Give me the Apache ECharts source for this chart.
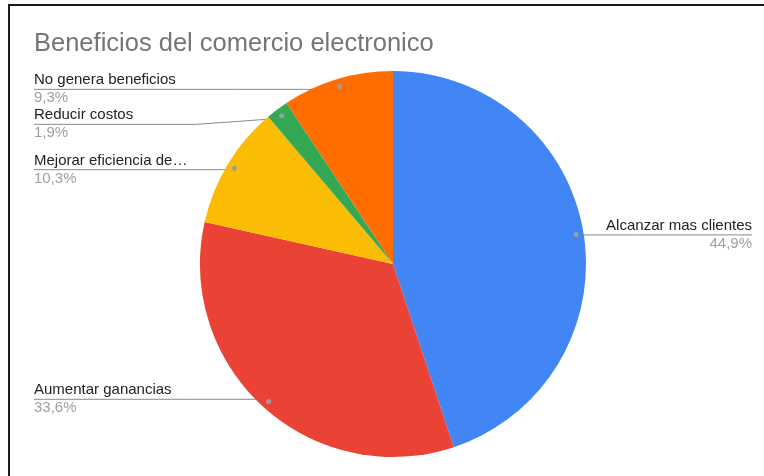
<!DOCTYPE html>
<html>
<head>
<meta charset="utf-8">
<script src="https://cdn.jsdelivr.net/npm/echarts@6/dist/echarts.min.js"></script>
<style>
  html, body { margin: 0; padding: 0; background: #fff; }
  #chart { position: absolute; left: 0; top: 0; width: 764px; height: 476px; }
  #frame { position: absolute; left: 8px; top: 4px; width: 800px; height: 520px;
           border-top: 2px solid #1a1a1a; border-left: 2px solid #1a1a1a; pointer-events: none; }
</style>
</head>
<body>
<div id="chart"></div>
<div id="frame"></div>
<script>
// datos del grafico
var titulo = 'Beneficios del comercio electronico';
var categorias = ['Alcanzar mas clientes', 'Aumentar ganancias', 'Mejorar eficiencia de\u2026', 'Reducir costos', 'No genera beneficios'];
var porcentajes = [44.9, 33.6, 10.3, 1.9, 9.3];

var colores = ['#4285f4', '#ea4335', '#fbbc04', '#34a853', '#ff6d01'];
var CX = 393, CY = 264, R = 193; // centro y radio en px
var DOT = 0.945; // posicion del punto dentro del sector
var FUENTE = '"Liberation Sans", Arial, sans-serif';

var chart = echarts.init(document.getElementById('chart'));

var datos = categorias.map(function (c, i) {
  return { name: c, value: porcentajes[i] };
});

function fmtPct(p) {
  return p.toFixed(1).replace('.', ',') + '%';
}

var option = {
  animation: false,
  backgroundColor: 'transparent',
  color: colores,
  title: {
    text: titulo,
    left: 34,
    top: 31,
    padding: 0,
    textStyle: { fontFamily: FUENTE, fontSize: 25.5, fontWeight: 'normal', color: '#757575' }
  },
  series: [
    {
      type: 'pie',
      left: 34,
      right: 12,
      top: 0,
      bottom: 0,
      center: [CX - 34, CY],
      radius: R,
      startAngle: 90,
      clockwise: true,
      avoidLabelOverlap: true,
      itemStyle: { borderWidth: 0 },
      emphasis: { disabled: true },
      label: {
        show: true,
        position: 'outside',
        alignTo: 'edge',
        edgeDistance: 0,
        distanceToLabelLine: 0,
        formatter: function (p) {
          return '{n|' + p.name + '}\n{p|' + fmtPct(p.value) + '}';
        },
        rich: {
          n: { fontFamily: FUENTE, fontSize: 15, color: '#222222', lineHeight: 18 },
          p: { fontFamily: FUENTE, fontSize: 15, color: '#a0a0a0', lineHeight: 18 }
        }
      },
      labelLine: {
        show: true,
        length: -R * (1 - DOT),
        length2: 0,
        lineStyle: { color: '#8a8a8a', width: 1 }
      },
      labelLayout: function (params) {
        var pts = params.labelLinePoints;
        if (!pts) return {};
        var r = params.labelRect;
        var p0 = pts[0];
        var ax = CX + (p0[0] - CX) * DOT;
        var ay = CY + (p0[1] - CY) * DOT;
        var izq = r.x + r.width / 2 < CX;
        var lineY = r.y + r.height / 2;
        var endX = izq ? r.x : r.x + r.width;
        var kneeX = ax + (endX - ax) * 0.35;
        return { labelLinePoints: [[ax, ay], [kneeX, lineY], [endX, lineY]] };
      },
      data: datos
    },
    {
      // puntos en el origen de cada linea
      type: 'pie',
      left: 34,
      right: 12,
      top: 0,
      bottom: 0,
      center: [CX - 34, CY],
      radius: [R * (2 * DOT - 1), R],
      startAngle: 90,
      clockwise: true,
      silent: true,
      avoidLabelOverlap: false,
      itemStyle: { color: 'transparent', borderWidth: 0 },
      emphasis: { disabled: true },
      label: {
        show: true,
        position: 'inside',
        formatter: '{d|}',
        rich: { d: { width: 5, height: 5, borderRadius: 3, backgroundColor: '#9e9e9e' } }
      },
      labelLine: { show: false },
      data: datos
    }
  ]
};

chart.setOption(option);
</script>
</body>
</html>
